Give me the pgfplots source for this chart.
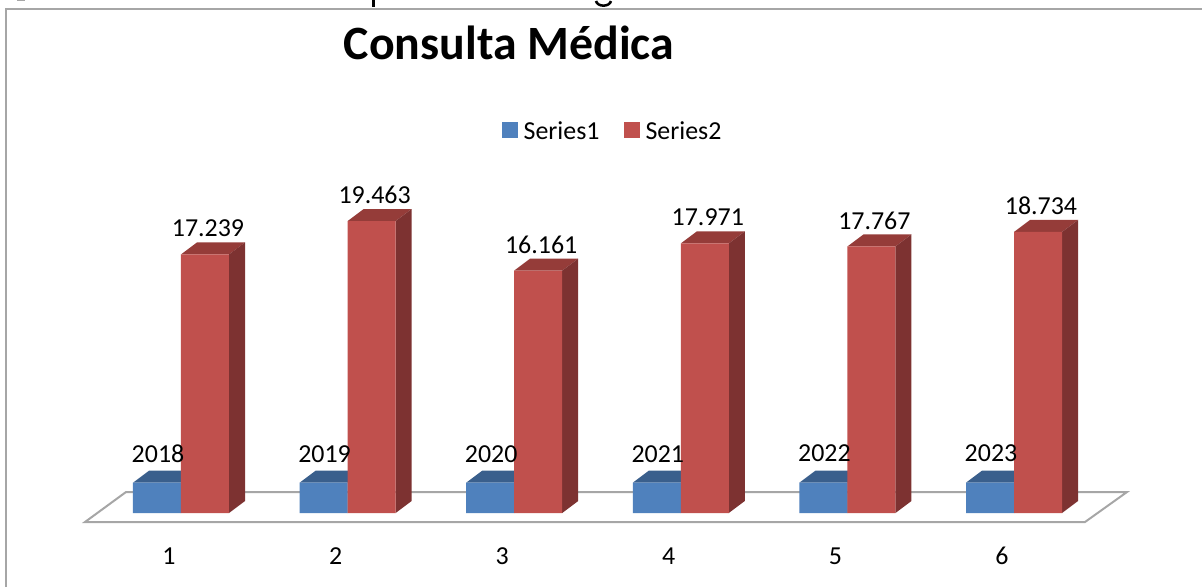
\documentclass[border=0pt]{standalone}
\usepackage{pgfplots}
\pgfplotsset{compat=1.18}
\usepackage{fontspec}
\setmainfont{Carlito}
\definecolor{bluefront}{HTML}{4F81BD}
\definecolor{bluetop}{HTML}{3A5F8C}
\definecolor{redfront}{HTML}{C0504D}
\definecolor{redtop}{HTML}{953C39}
\definecolor{redside}{HTML}{7D3231}
\definecolor{floorline}{HTML}{A6A6A6}
% x in category units: 1 unit = 166.6 px; y: 1 px = 66.65 units
\newcommand{\depth}[5]{% left x, right x, value, top colour, side colour
  \pgfmathsetmacro{\xa}{#1}\pgfmathsetmacro{\xb}{#2}
  \pgfmathsetmacro{\xc}{#1+0.096}\pgfmathsetmacro{\xd}{#2+0.096}
  \edef\yv{#3}\edef\yt{\the\numexpr#3+800\relax}
  \edef\temp{\noexpand\addplot[forget plot,fill=#4,draw=none] coordinates {(\xa,\yv) (\xb,\yv) (\xd,\yt) (\xc,\yt)} -- cycle;
   \noexpand\addplot[forget plot,fill=#5,draw=none] coordinates {(\xb,0) (\xd,800) (\xd,\yt) (\xb,\yv)} -- cycle;}
  \temp}
\begin{document}
\begin{tikzpicture}
\begin{axis}[
  scale only axis, width=1202bp, height=587bp,
  xmin=-0.0864, xmax=7.1285, ymin=-4933, ymax=34200,
  clip=false,
  axis line style={draw=none},
  xtick={1,2,3,4,5,6},
  ytick=\empty,
  major tick length=0pt,
  /pgf/number format/assume math mode=true,
  xticklabel style={font=\fontsize{26}{26}\selectfont, xshift=-12bp, yshift=31bp, anchor=center},
  title={\fontsize{48}{48}\selectfont\bfseries Consulta Médica},
  title style={at={(rel axis cs:0.4235,0.917)},anchor=center},
  legend style={draw=none,fill=none,at={(axis description cs:0.5096,0.777)},anchor=center,
    font=\fontsize{26}{26}\selectfont,legend columns=2,
    /tikz/every even column/.append style={column sep=22bp},
    /tikz/every odd column/.append style={column sep=4bp}},
  legend image code/.code={\fill[#1] (0cm,-7.5bp) rectangle (16bp,8.5bp);},
  nodes near coords style={font=\fontsize{26}{26}\selectfont, black, anchor=center},
]
% floor
\addplot[forget plot,fill=white,draw=floorline,line width=2bp] coordinates {
 (0.4238,-600) (6.4262,-600) (6.6783,1400) (0.6699,1400)} -- cycle;

% Series1
\depth{0.7118}{1.0}{2018}{bluetop}{bluetop}
\depth{1.7118}{2.0}{2019}{bluetop}{bluetop}
\depth{2.7118}{3.0}{2020}{bluetop}{bluetop}
\depth{3.7118}{4.0}{2021}{bluetop}{bluetop}
\depth{4.7118}{5.0}{2022}{bluetop}{bluetop}
\depth{5.7118}{6.0}{2023}{bluetop}{bluetop}
\addplot[ybar, bar width=48bp, bar shift=-24bp, fill=bluefront, draw=none,
  nodes near coords, /pgf/number format/1000 sep={},
  nodes near coords style={xshift=-23bp,yshift=29bp}]
  coordinates {(1,2018) (2,2019) (3,2020) (4,2021) (5,2022) (6,2023)};
\addlegendentry{Series1}

% Series2
\depth{1.0}{1.2882}{17239}{redtop}{redside}
\depth{2.0}{2.2882}{19463}{redtop}{redside}
\depth{3.0}{3.2882}{16161}{redtop}{redside}
\depth{4.0}{4.2882}{17971}{redtop}{redside}
\depth{5.0}{5.2882}{17767}{redtop}{redside}
\depth{6.0}{6.2882}{18734}{redtop}{redside}
\addplot[ybar, bar width=48bp, bar shift=24bp, fill=redfront, draw=none,
  nodes near coords, /pgf/number format/1000 sep={.},
  nodes near coords style={xshift=27bp,yshift=26bp}]
  coordinates {(1,17239) (2,19463) (3,16161) (4,17971) (5,17767) (6,18734)};
\addlegendentry{Series2}

% chart frame
\draw[floorline,line width=1.5bp] (axis cs:-0.0504,-4933) -- (axis cs:-0.0504,33592) -- (axis cs:7.1285,33592);
% cut-off ends of the line of text above the chart
\draw[black,line width=3bp] (axis cs:2.1525,34200) -- (axis cs:2.1525,33725);
\draw[black,line width=2.5bp] (axis cs:3.491,34133) .. controls (axis cs:3.50,33720) and (axis cs:3.572,33720) .. (axis cs:3.581,34133);
\draw[floorline,line width=1.5bp] (axis cs:0.0156,34160) -- (axis cs:0.0637,34160);
\end{axis}
\pgfresetboundingbox
\path[use as bounding box] (current axis.south west) rectangle (current axis.north east);
\end{tikzpicture}
\end{document}
